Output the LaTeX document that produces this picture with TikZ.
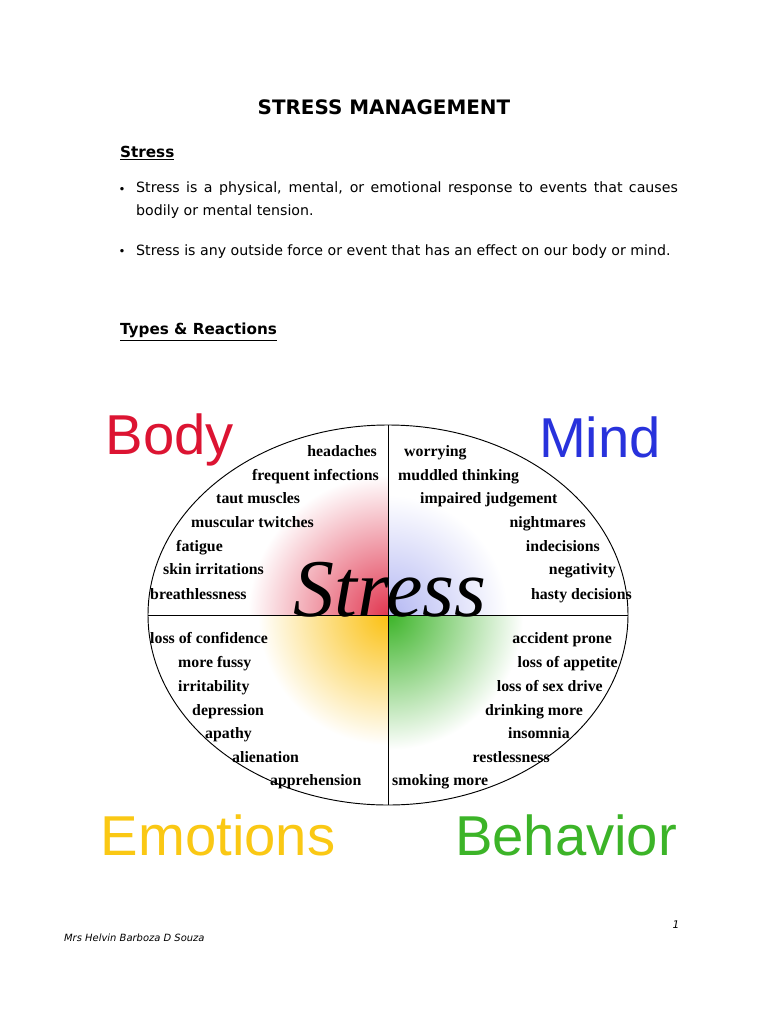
\documentclass[tikz,border=0pt]{standalone}
\usepackage{fontspec}
\setmainfont{DejaVu Sans}
\newfontfamily\listfont{Liberation Serif}
\newfontfamily\bigfont{Liberation Sans}
\usetikzlibrary{positioning}
\definecolor{bodyred}{RGB}{220,20,50}
\definecolor{mindblue}{RGB}{40,50,220}
\definecolor{emoyellow}{RGB}{250,200,20}
\definecolor{behgreen}{RGB}{60,180,40}
\tikzset{
  heading/.style={anchor=west,font=\fontsize{13}{15}\selectfont\bfseries},
  bullettext/.style={anchor=north west,text width=16.25cm,align=justify,inner sep=0pt,
    font=\fontsize{12.1}{20}\selectfont},
  item/.style={inner sep=0pt,font=\listfont\fontsize{13.5}{15}\selectfont\bfseries},
  lword/.style={item,anchor=base west},
  rword/.style={item,anchor=base east},
  bigword/.style={font=\bigfont\fontsize{48}{52}\selectfont}
}
\begin{document}
\begin{tikzpicture}[x=0.03cm,y=-0.03cm]
\useasboundingbox[fill=white] (0,0) rectangle (768,1024);

\node[font=\fontsize{17}{20}\selectfont\bfseries] (title) at (384,107) {STRESS MANAGEMENT};
\node[heading] (hstress) at (116,153) {\underline{Stress}};
\node (b1) at (122,190) {\textbullet};
\node[bullettext] (t1) at (136,181) {Stress is a physical, mental, or emotional response to events that causes bodily or mental tension.};
\node (b2) at (122,252) {\textbullet};
\node[bullettext,anchor=west,text width=] (t2) at (136,252) {Stress is any outside force or event that has an effect on our body or mind.};
\node[heading] (htypes) at (116,332) {\underline{Types \& Reactions}};

% colour glow
\begin{scope}
  \clip (148,425) rectangle (388,615);
  \shade[inner color=bodyred!85,outer color=white] (388,615) circle (140);
\end{scope}
\begin{scope}
  \clip (388,425) rectangle (628,615);
  \shade[inner color=mindblue!35,outer color=white] (388,615) circle (120);
\end{scope}
\begin{scope}
  \clip (148,615) rectangle (388,805);
  \shade[inner color=emoyellow!90!orange,outer color=white] (388,615) circle (130);
\end{scope}
\begin{scope}
  \clip (388,615) rectangle (628,805);
  \shade[inner color=behgreen,outer color=white] (388,615) circle (135);
\end{scope}

% wheel
\draw[thick] (388,615) ellipse [x radius=240,y radius=190];
\draw[thick] (388,425) -- (388,805);
\draw[thick] (148,615) -- (628,615);

\node[font=\listfont\fontsize{70}{74}\selectfont\itshape] (stress) at (390,590) {Stress};

\node[bigword,text=bodyred] (body) at (170,440) {Body};
\node[bigword,text=mindblue] (mind) at (600,437) {Mind};
\node[bigword,text=emoyellow] (emotions) at (218,835) {Emotions};
\node[bigword,text=behgreen] (behavior) at (566,835) {Behavior};

% body
\node[rword] (b_1) at (377,456) {headaches};
\node[rword] (b_2) at (379,480) {frequent infections};
\node[lword] (b_3) at (216,503) {taut muscles};
\node[lword] (b_4) at (191,527) {muscular twitches};
\node[lword] (b_5) at (176,551) {fatigue};
\node[lword] (b_6) at (163,574) {skin irritations};
\node[lword] (b_7) at (150,599) {breathlessness};
% mind
\node[lword] (m_1) at (404,456) {worrying};
\node[lword] (m_2) at (398,480) {muddled thinking};
\node[lword] (m_3) at (420,503) {impaired judgement};
\node[rword] (m_4) at (586,527) {nightmares};
\node[rword] (m_5) at (600,551) {indecisions};
\node[rword] (m_6) at (616,574) {negativity};
\node[rword] (m_7) at (632,599) {hasty decisions};
% emotions
\node[lword] (e_1) at (150,643) {loss of confidence};
\node[lword] (e_2) at (178,667) {more fussy};
\node[lword] (e_3) at (178,691) {irritability};
\node[lword] (e_4) at (192,715) {depression};
\node[lword] (e_5) at (205,738) {apathy};
\node[lword] (e_6) at (232,762) {alienation};
\node[lword] (e_7) at (270,785) {apprehension};
% behavior
\node[rword] (h_1) at (612,643) {accident prone};
\node[rword] (h_2) at (618,667) {loss of appetite};
\node[rword] (h_3) at (603,691) {loss of sex drive};
\node[rword] (h_4) at (583,715) {drinking more};
\node[rword] (h_5) at (570,738) {insomnia};
\node[rword] (h_6) at (550,762) {restlessness};
\node[lword] (h_7) at (392,785) {smoking more};

\node[font=\fontsize{9}{10}\selectfont\itshape] (page) at (676,925) {1};
\node[anchor=west,font=\fontsize{8.5}{10}\selectfont\itshape] (author) at (60,938) {Mrs Helvin Barboza D Souza};
\end{tikzpicture}
\end{document}
